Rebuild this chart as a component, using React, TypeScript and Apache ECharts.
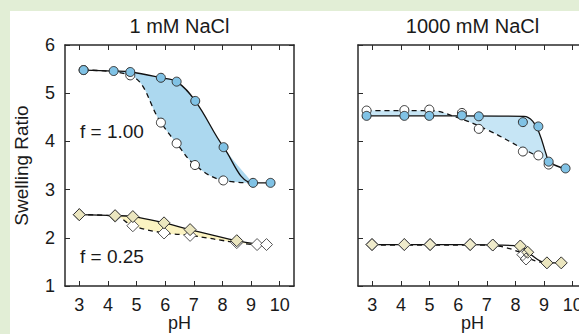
import React, { useEffect, useRef } from "react";
import * as echarts from "echarts";

// ---------- tick labels ----------
const xTicks = [3, 4, 5, 6, 7, 8, 9, 10];
const yTicks = [1, 2, 3, 4, 5, 6];
const panelTitles = ["1 mM NaCl", "1000 mM NaCl"];
const groupLabels = ["f = 1.00", "f = 0.25"];
const xName = "pH";
const yName = "Swelling Ratio";

// ---------- left panel (1 mM NaCl), f = 1.00 ----------
const L1FilledPH = [3.15, 4.2, 4.78, 5.85, 6.4, 7.05, 8.04, 9.07, 9.68];
const L1Filled = [5.48, 5.46, 5.44, 5.32, 5.24, 4.84, 3.88, 3.14, 3.14];
const L1OpenPH = [3.15, 4.78, 5.85, 6.4, 7.04, 8.03];
const L1Open = [5.48, 5.37, 4.39, 3.96, 3.51, 3.19];
const L1LowerPH = [3.15, 4.78, 5.85, 6.4, 7.04, 8.03, 9.07];
const L1Lower = [5.48, 5.37, 4.39, 3.96, 3.51, 3.19, 3.14];

// ---------- left panel, f = 0.25 ----------
const L25FilledPH = [3.0, 4.25, 4.87, 5.96, 6.87, 8.5];
const L25Filled = [2.48, 2.46, 2.44, 2.31, 2.17, 1.94];
const L25UpperPH = [3.0, 4.25, 4.87, 5.96, 6.87, 8.5, 9.21, 9.54];
const L25Upper = [2.48, 2.46, 2.44, 2.31, 2.17, 1.94, 1.87, 1.86];
const L25OpenPH = [3.0, 4.25, 4.87, 5.96, 6.87, 8.5, 9.21, 9.54];
const L25Open = [2.48, 2.45, 2.25, 2.1, 2.05, 1.9, 1.86, 1.86];

// ---------- right panel (1000 mM NaCl), f = 1.00 ----------
const R1FilledPH = [2.8, 4.12, 4.99, 6.13, 6.72, 8.26, 8.8, 9.16, 9.75];
const R1Filled = [4.53, 4.53, 4.53, 4.54, 4.52, 4.4, 4.31, 3.58, 3.44];
const R1OpenPH = [2.8, 4.12, 4.99, 6.13, 6.72, 8.26, 8.8, 9.16];
const R1Open = [4.64, 4.65, 4.66, 4.59, 4.26, 3.79, 3.71, 3.52];
const R1UpperPH = [2.8, 6.0, 8.3, 8.6, 8.84, 9.07, 9.19, 9.77];
const R1Upper = [4.53, 4.53, 4.52, 4.42, 4.16, 3.74, 3.57, 3.43];
const R1LowerPH = [2.8, 5.0, 5.9, 7.05, 8.26, 8.84, 9.19];
const R1Lower = [4.64, 4.64, 4.51, 4.23, 3.85, 3.67, 3.57];

// ---------- right panel, f = 0.25 ----------
const R25FilledPH = [2.99, 4.12, 5.02, 6.42, 7.21, 8.17, 8.43, 9.1, 9.6];
const R25Filled = [1.86, 1.86, 1.86, 1.86, 1.85, 1.83, 1.7, 1.48, 1.48];
const R25OpenPH = [2.99, 4.12, 5.02, 6.42, 7.21, 8.26, 8.37];
const R25Open = [1.86, 1.86, 1.86, 1.86, 1.85, 1.65, 1.56];
const R25LowerPH = [2.99, 4.12, 5.02, 6.42, 7.21, 8.26, 8.37, 9.1, 9.6];
const R25Lower = [1.85, 1.85, 1.85, 1.85, 1.84, 1.68, 1.6, 1.48, 1.48];

const FONT = '"Liberation Sans", Arial, sans-serif';
const AX = "#2a2a2a";

const pts = (xs: number[], ys: number[]) => xs.map((x, i) => [x, ys[i]]);

function App() {
  const ref = useRef<HTMLDivElement>(null);
  useEffect(() => {
    if (!ref.current) return;
    const chart = echarts.init(ref.current, null, { renderer: "svg" });

    const curve = (g: number, xs: number[], ys: number[], dashed: boolean) => ({
      type: "line",
      xAxisIndex: g * 2,
      yAxisIndex: g * 2,
      data: pts(xs, ys),
      smooth: 0.4,
      symbol: "none",
      silent: true,
      lineStyle: { color: "#111", width: 1.3, type: dashed ? [5, 4] : "solid" },
      z: 3,
    });
    const band = (g: number, ux: number[], uy: number[], lx: number[], ly: number[], color: string) => {
      const lastX = lx[lx.length - 1];
      const up = pts(ux, uy).filter((p) => p[0] <= lastX + 0.05);
      const low = pts(lx, ly).reverse();
      return {
        type: "line",
        xAxisIndex: g * 2,
        yAxisIndex: g * 2,
        data: [...up, ...low],
        smooth: 0.4,
        symbol: "none",
        silent: true,
        lineStyle: { width: 0, opacity: 0 },
        areaStyle: { color, opacity: 1 },
        z: 1,
      };
    };
    const marks = (g: number, xs: number[], ys: number[], symbol: string, size: number, color: string, border: string, z: number) => ({
      type: "scatter",
      xAxisIndex: g * 2,
      yAxisIndex: g * 2,
      data: pts(xs, ys),
      symbol,
      symbolSize: size,
      itemStyle: { color, borderColor: border, borderWidth: 1, opacity: 1 },
      z,
    });

    const blueL = "#acd8ef";
    const blueR = "#c6e5f5";
    const yellow = "#fbf3c2";
    const circ = "#80c2e5";
    const dia = "#ebe6bf";

    const series = [
      band(0, L1FilledPH, L1Filled, L1LowerPH, L1Lower, blueL),
      band(0, L25UpperPH, L25Upper, L25OpenPH, L25Open, yellow),
      curve(0, L1FilledPH, L1Filled, false),
      curve(0, L1LowerPH, L1Lower, true),
      curve(0, L25UpperPH, L25Upper, false),
      curve(0, L25OpenPH, L25Open, true),
      marks(0, L1OpenPH, L1Open, "circle", 9, "#ffffff", "#333", 5),
      marks(0, L1FilledPH, L1Filled, "circle", 9, circ, "#333", 6),
      marks(0, L25OpenPH, L25Open, "diamond", 12, "#ffffff", "#555", 5),
      marks(0, L25FilledPH, L25Filled, "diamond", 12, dia, "#333", 6),

      band(1, R1UpperPH, R1Upper, R1LowerPH, R1Lower, blueR),
      curve(1, R1UpperPH, R1Upper, false),
      curve(1, R1LowerPH, R1Lower, true),
      curve(1, R25FilledPH, R25Filled, false),
      curve(1, R25LowerPH, R25Lower, true),
      marks(1, R1OpenPH, R1Open, "circle", 9, "#ffffff", "#333", 5),
      marks(1, R1FilledPH, R1Filled, "circle", 9, circ, "#333", 6),
      marks(1, R25FilledPH, R25Filled, "diamond", 12, dia, "#333", 5),
      marks(1, R25OpenPH, R25Open, "diamond", 12, "rgba(255,255,255,0.2)", "#555", 6),
    ];

    const grids = [
      { left: 65, top: 45, width: 229, height: 241, containLabel: false, outerBoundsMode: "none" },
      { left: 358, top: 45, width: 229, height: 241, containLabel: false, outerBoundsMode: "none" },
    ];

    const xAxes: any[] = [];
    const yAxes: any[] = [];
    [0, 1].forEach((g) => {
      const lineStyle = { color: AX, width: 1.5 };
      const tickStyle = { color: AX, width: 1 };
      xAxes.push({
        type: "value",
        gridIndex: g,
        position: "bottom",
        min: 2.5,
        max: 10.5,
        axisLine: { show: true, onZero: false, lineStyle },
        axisTick: { show: true, inside: true, length: 5, customValues: xTicks, lineStyle: tickStyle },
        axisLabel: { show: true, customValues: xTicks, margin: 10, fontSize: 18, color: "#1a1a1a", fontFamily: FONT },
        splitLine: { show: false },
      });
      xAxes.push({
        type: "value",
        gridIndex: g,
        position: "top",
        min: 2.5,
        max: 10.5,
        axisLine: { show: true, onZero: false, lineStyle },
        axisTick: { show: true, inside: true, length: 5, customValues: xTicks, lineStyle: tickStyle },
        axisLabel: { show: false },
        splitLine: { show: false },
      });
      yAxes.push({
        type: "value",
        gridIndex: g,
        position: "left",
        min: yTicks[0],
        max: yTicks[yTicks.length - 1],
        interval: 1,
        axisLine: { show: true, onZero: false, lineStyle },
        axisTick: { show: true, inside: true, length: 5, lineStyle: tickStyle },
        axisLabel: { show: g === 0, margin: 10, fontSize: 18, color: "#1a1a1a", fontFamily: FONT },
        splitLine: { show: false },
        name: g === 0 ? yName : "",
        nameLocation: "middle",
        nameGap: 34,
        nameTextStyle: { fontSize: 19, color: "#1a1a1a", fontFamily: FONT },
      });
      yAxes.push({
        type: "value",
        gridIndex: g,
        position: "right",
        min: yTicks[0],
        max: yTicks[yTicks.length - 1],
        interval: 1,
        axisLine: { show: true, onZero: false, lineStyle },
        axisTick: { show: true, inside: true, length: 5, lineStyle: tickStyle },
        axisLabel: { show: false },
        splitLine: { show: false },
      });
    });

    const txt = (x: number, y: number, text: string, size: number, align: string) => ({
      type: "text",
      x,
      y,
      silent: true,
      z: 10,
      style: { text, fontSize: size, fontFamily: FONT, fill: "#1a1a1a", align, verticalAlign: "middle" },
    });

    chart.setOption({
      animation: false,
      backgroundColor: "transparent",
      grid: grids,
      xAxis: xAxes,
      yAxis: yAxes,
      series,
      graphic: [
        txt(179.5, 26, panelTitles[0], 20, "center"),
        txt(472.5, 26, panelTitles[1], 20, "center"),
        txt(80, 131, groupLabels[0], 19, "left"),
        txt(80, 256, groupLabels[1], 19, "left"),
        txt(179.5, 323, xName, 18, "center"),
        txt(472.5, 323, xName, 18, "center"),
      ],
    });
    return () => chart.dispose();
  }, []);

  return (
    <div style={{ position: "fixed", left: 0, top: 0, width: 579, height: 334, background: "#e2eed6", overflow: "hidden" }}>
      <div style={{ position: "absolute", left: 10, top: 11, right: 0, bottom: 0, background: "#ffffff" }} />
      <div ref={ref} style={{ position: "absolute", left: 0, top: 0, width: 579, height: 334 }} />
    </div>
  );
}

export default App;
